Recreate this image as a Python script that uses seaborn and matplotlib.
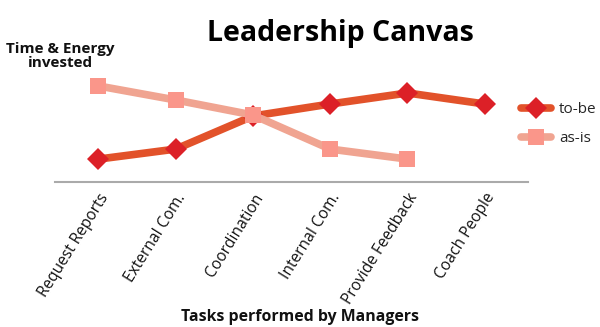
import matplotlib
matplotlib.use("Agg")
import matplotlib.pyplot as plt
import seaborn as sns
import pandas as pd
import numpy as np
from matplotlib.lines import Line2D

categories = ["Request Reports", "External Com.", "Coordination", "Internal Com.",
              "Provide Feedback", "Coach People"]
to_be = [2.3, 3.3, 6.6, 7.8, 8.9, 7.8]
as_is = [9.6, 8.2, 6.7, 3.3, 2.3, np.nan]

sns.set_theme(style="white")
plt.rcParams["font.family"] = ["Open Sans", "DejaVu Sans"]

fig = plt.figure(figsize=(6.0, 3.27), dpi=100)
ax = fig.add_axes([0.092, 0.443, 0.788, 0.337])

pos = list(range(len(categories)))
df_tb = pd.DataFrame({"pos": pos, "value": to_be})
df_ai = pd.DataFrame({"pos": pos, "value": as_is}).dropna()

line_tb, mark_tb = "#E2522A", "#DC2027"
line_ai, mark_ai = "#F0A491", "#FA968A"

sns.lineplot(data=df_tb, x="pos", y="value", ax=ax, color=line_tb, lw=5.5,
             marker="D", markersize=11, markerfacecolor=mark_tb, markeredgecolor=mark_tb,
             markeredgewidth=0, zorder=3)
sns.lineplot(data=df_ai, x="pos", y="value", ax=ax, color=line_ai, lw=5.5,
             marker="s", markersize=11, markerfacecolor=mark_ai, markeredgecolor=mark_ai,
             markeredgewidth=0, zorder=4)

ax.set_xlim(-0.56, 5.56)
ax.set_ylim(0, 11)
ax.set_yticks([])
ax.set_xticks(pos)
ax.set_xticklabels(categories, rotation=58, ha="right", rotation_mode="anchor",
                   fontsize=11.2, color="#111111")
ax.tick_params(axis="x", length=0, pad=6)
for s in ["top", "right", "left"]:
    ax.spines[s].set_visible(False)
ax.spines["bottom"].set_color("#AAAAAA")
ax.spines["bottom"].set_linewidth(1.5)
ax.set_xlabel("")
ax.set_ylabel("")

fig.text(0.567, 0.898, "Leadership Canvas", ha="center", va="center",
         fontsize=20.5, fontweight="bold", color="#000000")
fig.text(0.1, 0.83, "Time & Energy\ninvested", ha="center", va="center",
         fontsize=11, fontweight="bold", color="#111111", linespacing=1.0)
fig.text(0.5, 0.031, "Tasks performed by Managers", ha="center", va="center",
         fontsize=11.4, fontweight="bold", color="#111111")

handles = [
    Line2D([], [], color=line_tb, lw=5.5, marker="D", markersize=11,
           markerfacecolor=mark_tb, markeredgewidth=0),
    Line2D([], [], color=line_ai, lw=5.5, marker="s", markersize=11,
           markerfacecolor=mark_ai, markeredgewidth=0),
]
fig.legend(handles, ["to-be", "as-is"], loc="center left",
           bbox_to_anchor=(0.845, 0.62), frameon=False, fontsize=11,
           handlelength=2.0, handletextpad=0.5, labelspacing=0.9)

fig.savefig("out.png", dpi=100)
